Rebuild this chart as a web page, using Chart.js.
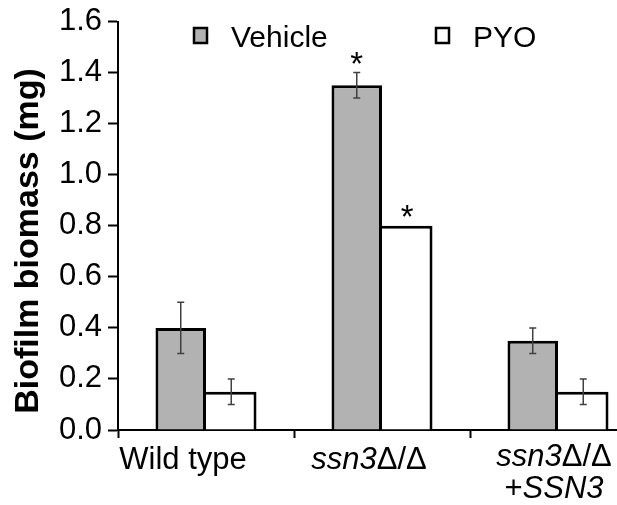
<!DOCTYPE html>
<html>
<head>
<meta charset="utf-8">
<script src="https://cdn.jsdelivr.net/npm/chart.js@4.4.1/dist/chart.umd.min.js"></script>
<style>
  html, body { margin: 0; padding: 0; background: #fff; overflow: hidden; }
</style>
</head>
<body>
<canvas id="grafico" width="650" height="505"></canvas>
<script>
// dados
const categorias = ["Wild type", "ssn3Δ/Δ", "ssn3Δ/Δ\n+SSN3"];
const series = ["Vehicle", "PYO"];
const veiculo = [0.40, 1.35, 0.35];
const pyo = [0.15, 0.80, 0.15];
const erroVeiculo = [0.10, 0.05, 0.05];
const erroPYO = [0.05, 0, 0.05];
const signifVeiculo = ["", "*", ""];
const signifPYO = ["", "*", ""];
const ticksY = [0, 0.2, 0.4, 0.6, 0.8, 1.0, 1.2, 1.4, 1.6];
const tituloY = "Biofilm biomass (mg)";

const fam = "'Liberation Sans', Arial, sans-serif";
const cores = ["#b2b2b2", "#ffffff"];

function fonteParte(p, tam) {
    return (/^(ssn3|SSN3)$/.test(p) ? "italic " : "") + tam + "px " + fam;
}

const extras = {
    id: "extras",
    afterDatasetsDraw(chart) {
        const c = chart.ctx;
        const y = chart.scales.y;
        const erros = [erroVeiculo, erroPYO];
        const marcas = [signifVeiculo, signifPYO];
        c.save();
        chart.data.datasets.forEach((ds, d) => {
            chart.getDatasetMeta(d).data.forEach((bar, i) => {
                const v = ds.data[i];
                const e = erros[d][i];
                let topo = y.getPixelForValue(v);
                if (e) {
                    const yt = y.getPixelForValue(v + e);
                    const yb = y.getPixelForValue(v - e);
                    c.strokeStyle = "#404040";
                    c.lineWidth = 1.5;
                    c.beginPath();
                    c.moveTo(bar.x, yt); c.lineTo(bar.x, yb);
                    c.moveTo(bar.x - 3.5, yt); c.lineTo(bar.x + 3.5, yt);
                    c.moveTo(bar.x - 3.5, yb); c.lineTo(bar.x + 3.5, yb);
                    c.stroke();
                    topo = yt;
                }
                if (marcas[d][i]) {
                    c.fillStyle = "#000";
                    c.font = "33px " + fam;
                    c.textAlign = "center";
                    c.textBaseline = "alphabetic";
                    c.fillText(marcas[d][i], bar.x, topo + 2);
                }
            });
        });
        c.restore();
    },
    afterDraw(chart) {
        const c = chart.ctx;
        const x = chart.scales.x;
        const area = chart.chartArea;
        c.save();
        c.fillStyle = "#000";
        c.textBaseline = "alphabetic";
        c.textAlign = "left";

        // rótulos das categorias (partes em itálico)
        const desvio = [-23, -13, -4];
        categorias.forEach((cat, i) => {
            const cx = x.getPixelForValue(i) + desvio[i];
            const linhas = cat.split("\n");
            linhas.forEach((linha, j) => {
                const partes = linha.split(/(ssn3|SSN3)/).filter(p => p);
                let total = 0;
                partes.forEach(p => { c.font = fonteParte(p, 31); total += c.measureText(p).width; });
                let px = cx - total / 2;
                const py = area.bottom + (linhas.length > 1 ? 36 : 39) + j * 32;
                partes.forEach(p => {
                    c.font = fonteParte(p, 31);
                    c.fillText(p, px, py);
                    px += c.measureText(p).width;
                });
            });
        });

        // legenda dentro da área
        chart.data.datasets.forEach((ds, d) => {
            const bx = 194 + d * 242;
            c.fillStyle = ds.backgroundColor;
            c.fillRect(bx, 28, 13, 15);
            c.strokeStyle = "#000";
            c.lineWidth = 2.5;
            c.strokeRect(bx, 28, 13, 15);
            c.fillStyle = "#000";
            c.font = "30px " + fam;
            c.fillText(ds.label, bx + 37, 47);
        });

        // título do eixo y
        c.translate(38, 241);
        c.rotate(-Math.PI / 2);
        c.textAlign = "center";
        c.font = "bold 34px " + fam;
        c.fillText(tituloY, 0, 0);
        c.restore();
    }
};

new Chart(document.getElementById("grafico").getContext("2d"), {
    type: "bar",
    data: {
        labels: categorias,
        datasets: [
            {
                label: series[0],
                data: veiculo,
                backgroundColor: cores[0],
                borderColor: "#000",
                borderWidth: { top: 3, left: 3, right: 3, bottom: 0 },
                barPercentage: 1,
                categoryPercentage: 0.574
            },
            {
                label: series[1],
                data: pyo,
                backgroundColor: cores[1],
                borderColor: "#000",
                borderWidth: { top: 3, left: 0, right: 3, bottom: 0 },
                barPercentage: 1,
                categoryPercentage: 0.574
            }
        ]
    },
    options: {
        responsive: false,
        animation: false,
        layout: { padding: { top: 20, right: 4, bottom: 67, left: 0 } },
        plugins: { legend: { display: false }, tooltip: { enabled: false } },
        scales: {
            x: {
                offset: true,
                grid: { offset: true, drawOnChartArea: false, tickLength: 8, tickWidth: 2, tickColor: "#000" },
                border: { color: "#000", width: 2 },
                ticks: { display: false }
            },
            y: {
                min: 0,
                max: 1.6,
                afterFit(s) { s.width = 118; },
                afterBuildTicks(s) { s.ticks = ticksY.map(v => ({ value: v })); },
                ticks: {
                    callback: v => v.toFixed(1),
                    color: "#000",
                    font: { family: fam, size: 31, lineHeight: 1 },
                    padding: 6
                },
                grid: { drawOnChartArea: false, tickLength: 10, tickWidth: 2, tickColor: "#000" },
                border: { color: "#000", width: 2 }
            }
        }
    },
    plugins: [extras]
});
</script>
</body>
</html>
